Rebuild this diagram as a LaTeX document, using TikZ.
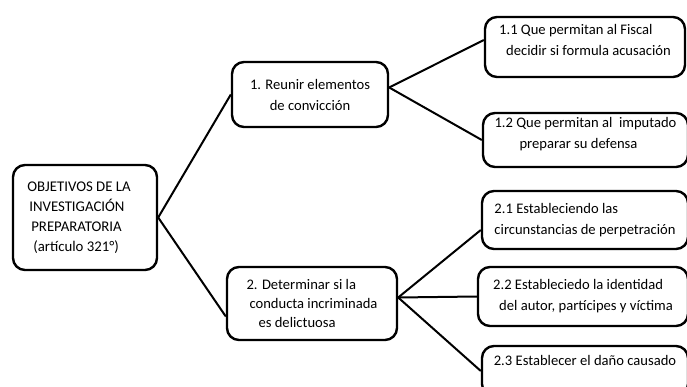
\documentclass[tikz,border=0pt]{standalone}
\usepackage{fontspec}
\setmainfont{Carlito}
\usepackage{tikz}
\usetikzlibrary{positioning}

\begin{document}
\begin{tikzpicture}[x=1pt, y=-1pt]
        \tikzstyle{every node}=[draw, line width=2.4pt, rounded corners=12pt, inner sep=0pt,
                                font=\fontsize{14.6}{21}\selectfont]
        \tikzstyle{branch}=[line width=2pt]

        \clip (0,0) rectangle (687,387);

        % root
        \node (obj) [minimum width=144pt, minimum height=105pt, align=left,
                     font=\fontsize{14.8}{20}\selectfont] at (85,217.5)
            {OBJETIVOS DE LA\hspace*{12pt}\\\hspace*{2pt}INVESTIGACIÓN\\\hspace*{4pt}PREPARATORIA\\\hspace*{6pt}(artículo 321°)};

        % first level
        \node (b1) [minimum width=156pt, minimum height=65pt, align=center] at (310,94.5)
            {1. Reunir elementos\\de convicción};
        \node (b2) [minimum width=170pt, minimum height=73pt, align=left,
                    font=\fontsize{14.6}{19}\selectfont] at (312,303.5)
            {2. Determinar si la\\\hspace*{3pt}conducta incriminada\\\hspace*{12pt}es delictuosa};

        % second level
        \node (b11) [minimum width=200pt, minimum height=60pt, align=left, text depth=15pt] at (585,47)
            {1.1 Que permitan al Fiscal\\\hspace*{7pt}decidir si formula acusación};
        \node (b12) [minimum width=205pt, minimum height=54pt, align=left, text depth=14pt] at (585.5,140)
            {1.2 Que permitan al\ \ imputado\\\hspace*{25pt}preparar su defensa};
        \node (b21) [minimum width=206pt, minimum height=58pt, align=left] at (585,220)
            {2.1 Estableciendo las\\circunstancias de perpetración};
        \node (b22) [minimum width=210pt, minimum height=59pt, align=left] at (583,296.5)
            {2.2 Estableciedo la identidad\\\hspace*{6pt}del autor, partícipes y víctima};
        \node (b23) [minimum width=206pt, minimum height=50pt, align=left] at (585,371)
            {2.3 Establecer el daño causado\\~};

        \draw[branch] (obj.east) -- (b1.west);
        \draw[branch] (obj.east) -- ([yshift=-13pt]b2.west);

        \draw[branch] ([yshift=7pt]b1.east) -- ([yshift=7pt]b11.west);
        \draw[branch] ([yshift=7pt]b1.east) -- (b12.west);

        \draw[branch] ([yshift=6pt]b2.east) -- ([yshift=-10pt]b21.west);
        \draw[branch] ([yshift=6pt]b2.east) -- (b22.west);
        \draw[branch] ([yshift=6pt]b2.east) -- (b23.west);

    \end{tikzpicture}
\end{document}
